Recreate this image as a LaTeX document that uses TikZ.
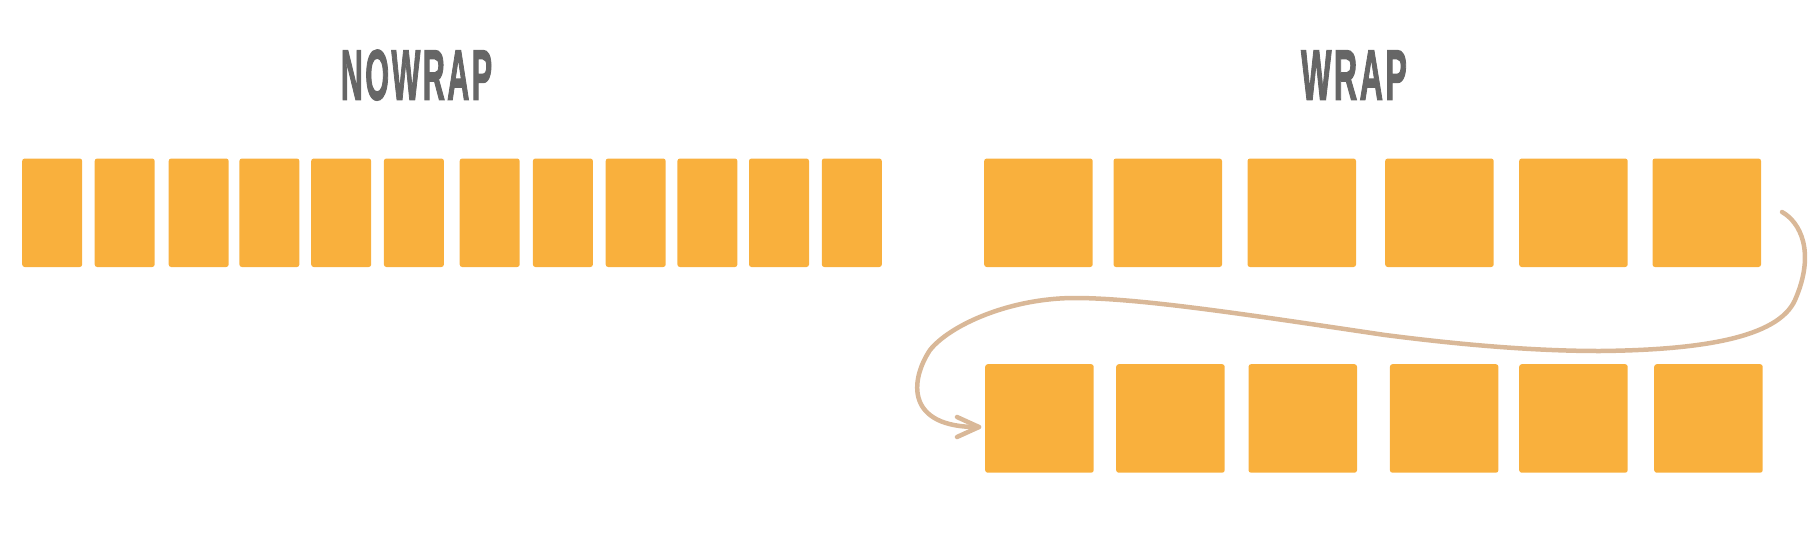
\documentclass[tikz,border=0pt]{standalone}
\usepackage{fontspec}
\setmainfont{Liberation Sans}
\newfontfamily\titlefont{Liberation Sans}[BoldFeatures={FakeBold=2.5},LetterSpace=8]
\definecolor{boxorange}{HTML}{F9B03D}
\definecolor{titlegray}{HTML}{666666}
\definecolor{curvetan}{HTML}{D9B898}
\begin{document}
\begin{tikzpicture}[x=1pt,y=-1pt,
  itembox/.style={fill=boxorange,draw=none,rounded corners=2.5pt,inner sep=0pt,anchor=north west},
  narrowbox/.style={itembox,minimum width=60pt,minimum height=108.5pt},
  widebox/.style={itembox,minimum width=108.5pt,minimum height=108.5pt},
  titletext/.style={text=titlegray,font=\titlefont\bfseries\fontsize{71}{80}\selectfont,inner sep=0pt,anchor=base},
  wrapcurve/.style={draw=curvetan,line width=4.5pt,line cap=round,line join=round}]
\path[use as bounding box] (0,0) rectangle (1812,555);
% titles
\node[titletext] (tnowrap) at (416.5,99.5) {\scalebox{0.43}[1]{NOWRAP}};
\node[titletext] (twrap) at (1354,99.5) {\scalebox{0.452}[1]{WRAP}};
% nowrap row
\foreach \x [count=\i] in {22,94.5,168.5,239.2,311,383.7,459.5,532.7,605.5,677.2,748.8,821.6}
  \node[narrowbox] (n\i) at (\x,158.3) {};
% wrap rows
\foreach \x [count=\i] in {984,1113.3,1247.3,1385,1519,1652.3}
  \node[widebox] (w\i) at (\x,158.3) {};
\foreach \x [count=\i] in {985,1116,1248.3,1389.7,1519,1654}
  \node[widebox] (v\i) at (\x,364) {};
% curve
\coordinate (cs) at (1782,212);
\coordinate (ce) at (979,427);
\draw[wrapcurve]
  (cs) .. controls (1800,222) and (1816,252) .. (1795,300)
  .. controls (1778,338) and (1700,350) .. (1600,351)
  .. controls (1520,351) and (1440,342) .. (1385,335)
  .. controls (1250,315) and (1140,298) .. (1075,298)
  .. controls (1010,298) and (950,325) .. (930,350)
  .. controls (910,380) and (905,428) .. (ce);
\draw[wrapcurve] ([shift={(-22,-10)}]ce) -- (ce) -- ([shift={(-22,10)}]ce);
\end{tikzpicture}
\end{document}
